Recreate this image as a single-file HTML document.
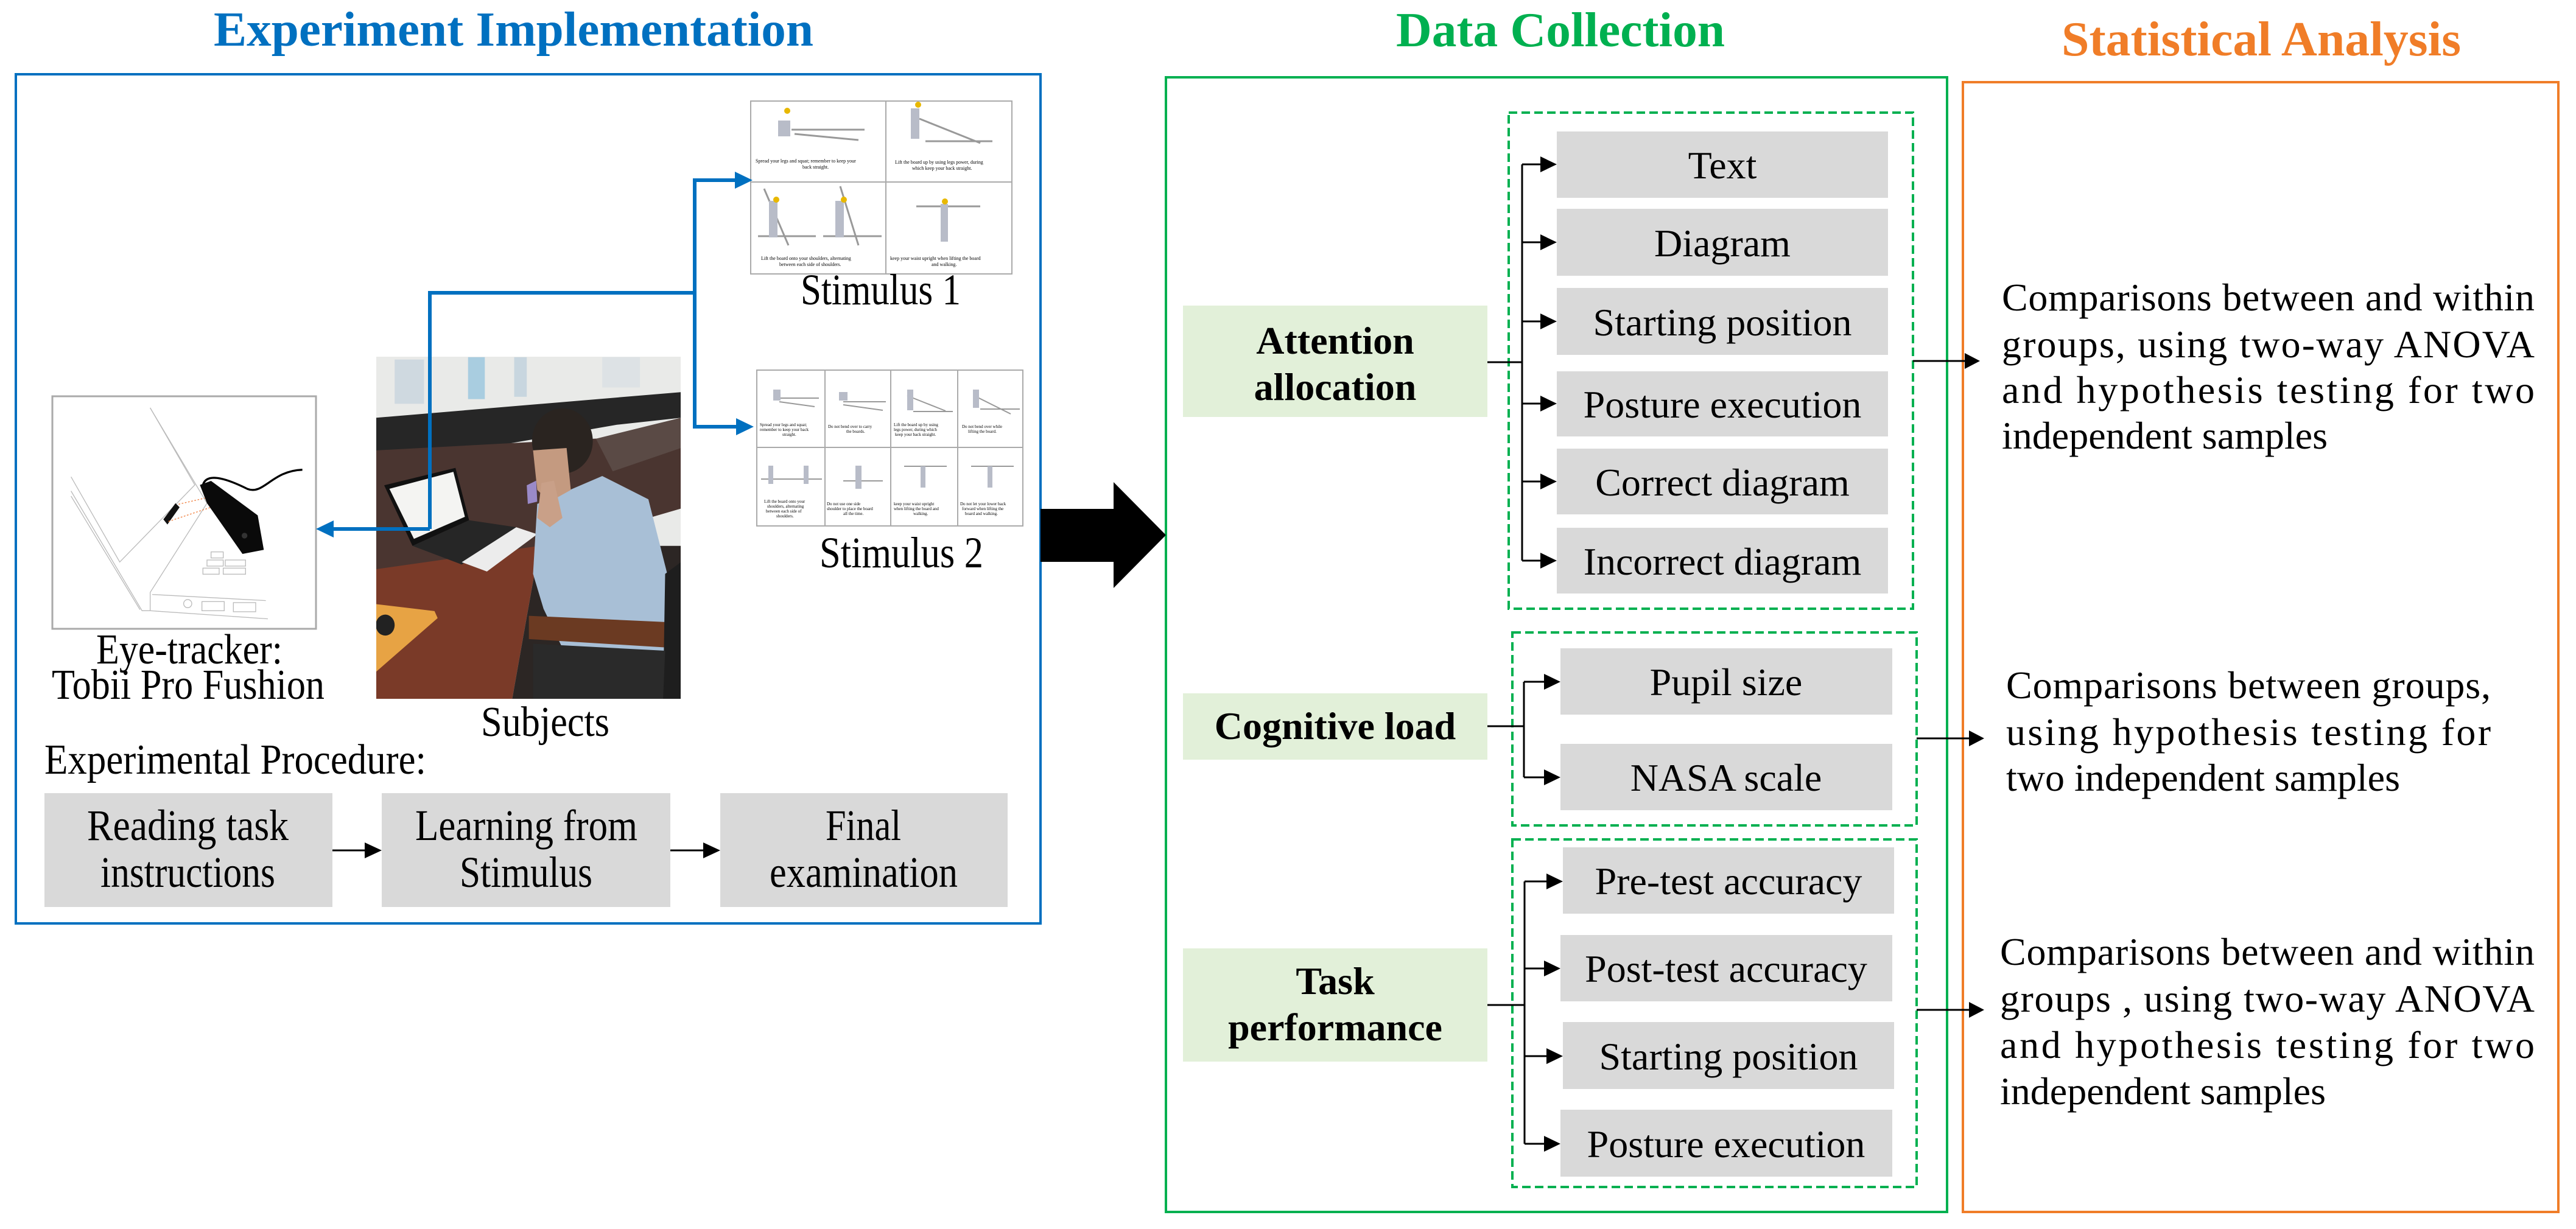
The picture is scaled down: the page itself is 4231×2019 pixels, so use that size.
<!DOCTYPE html>
<html><head><meta charset="utf-8"><style>
html,body{margin:0;padding:0;background:#fff}
svg{display:block}
text{font-family:"Liberation Serif","Times New Roman",serif;fill:#000}
</style></head><body>
<svg width="4231" height="2019" viewBox="0 0 4231 2019" xmlns="http://www.w3.org/2000/svg">
<defs>
<clipPath id="cp"><rect x="618" y="586" width="500" height="562"/></clipPath>
</defs>
<rect width="4231" height="2019" fill="#fff"/>

<!-- Titles -->
<text x="351" y="75" font-size="80" font-weight="bold" style="fill:#0070C0" textLength="985" lengthAdjust="spacingAndGlyphs">Experiment Implementation</text>
<text x="2293" y="76" font-size="80" font-weight="bold" style="fill:#00B050" textLength="540" lengthAdjust="spacingAndGlyphs">Data Collection</text>
<text x="3386" y="91" font-size="80" font-weight="bold" style="fill:#F07D28" textLength="656" lengthAdjust="spacingAndGlyphs">Statistical Analysis</text>

<!-- Main boxes -->
<rect x="26" y="122" width="1683" height="1395" fill="none" stroke="#0070C0" stroke-width="4"/>
<rect x="1915" y="127" width="1283" height="1864" fill="none" stroke="#00B050" stroke-width="4"/>
<rect x="3224" y="135" width="978" height="1856" fill="none" stroke="#F07D28" stroke-width="4"/>

<!-- Big arrow -->
<polygon points="1709,836 1829,836 1829,792 1915,879 1829,966 1829,923 1709,923" fill="#000"/>

<!-- Stimulus 1 -->
<g>
<rect x="1233" y="166" width="429" height="284" fill="#fff" stroke="#aaa" stroke-width="2"/>
<line x1="1455" y1="166" x2="1455" y2="450" stroke="#aaa" stroke-width="2"/>
<line x1="1233" y1="299" x2="1662" y2="299" stroke="#aaa" stroke-width="2"/>
<g stroke="#999" stroke-width="3" fill="none">
<line x1="1300" y1="213" x2="1420" y2="213"/><line x1="1305" y1="220" x2="1410" y2="230"/>
<line x1="1520" y1="232" x2="1630" y2="232"/><line x1="1510" y1="195" x2="1610" y2="235"/>
<line x1="1245" y1="388" x2="1340" y2="388"/><line x1="1352" y1="388" x2="1448" y2="388"/>
<line x1="1255" y1="310" x2="1295" y2="403"/><line x1="1380" y1="306" x2="1410" y2="403"/>
<line x1="1505" y1="339" x2="1610" y2="339"/>
</g>
<g fill="#b8bcc8">
<rect x="1278" y="198" width="20" height="26"/><rect x="1496" y="178" width="14" height="50"/>
<rect x="1263" y="330" width="14" height="60"/><rect x="1372" y="330" width="14" height="60"/><rect x="1545" y="335" width="12" height="62"/>
</g>
<g fill="#e8b800"><circle cx="1293" cy="182" r="5"/><circle cx="1508" cy="172" r="5"/><circle cx="1275" cy="328" r="5"/><circle cx="1386" cy="328" r="5"/><circle cx="1552" cy="331" r="5"/></g>
<g font-size="8" style="fill:#444">
<text x="1241" y="267">Spread your legs and squat; remember to keep your</text>
<text x="1318" y="277">back straight.</text>
<text x="1470" y="269">Lift the board up by using legs power, during</text>
<text x="1498" y="279">which keep your back straight.</text>
<text x="1250" y="427">Lift the board onto your shoulders, alternating</text>
<text x="1280" y="437">between each side of shoulders.</text>
<text x="1462" y="427">keep your waist upright when lifting the board</text>
<text x="1530" y="437">and walking.</text>
</g>
</g>
<text x="1315" y="500" font-size="72" textLength="263" lengthAdjust="spacingAndGlyphs">Stimulus 1</text>

<!-- Stimulus 2 -->
<g>
<rect x="1243" y="608" width="437" height="256" fill="#fff" stroke="#aaa" stroke-width="2"/>
<g stroke="#aaa" stroke-width="2">
<line x1="1355" y1="608" x2="1355" y2="864"/><line x1="1463" y1="608" x2="1463" y2="864"/><line x1="1573" y1="608" x2="1573" y2="864"/>
<line x1="1243" y1="735" x2="1680" y2="735"/>
</g>
<g stroke="#999" stroke-width="2" fill="none">
<line x1="1280" y1="654" x2="1345" y2="654"/><line x1="1280" y1="660" x2="1338" y2="668"/>
<line x1="1385" y1="660" x2="1455" y2="660"/><line x1="1385" y1="665" x2="1450" y2="674"/>
<line x1="1500" y1="676" x2="1565" y2="676"/><line x1="1490" y1="650" x2="1553" y2="675"/>
<line x1="1610" y1="672" x2="1675" y2="672"/><line x1="1600" y1="650" x2="1660" y2="680"/>
<line x1="1250" y1="787" x2="1350" y2="787"/><line x1="1385" y1="790" x2="1450" y2="790"/>
<line x1="1485" y1="766" x2="1555" y2="766"/><line x1="1595" y1="766" x2="1665" y2="766"/>
</g>
<g fill="#b8bcc8">
<rect x="1270" y="640" width="12" height="18"/><rect x="1378" y="644" width="14" height="14"/><rect x="1490" y="640" width="10" height="34"/><rect x="1598" y="640" width="10" height="30"/>
<rect x="1262" y="765" width="8" height="30"/><rect x="1320" y="765" width="8" height="30"/><rect x="1405" y="765" width="10" height="38"/><rect x="1512" y="766" width="8" height="35"/><rect x="1622" y="766" width="8" height="35"/>
</g>
<g font-size="7" style="fill:#444">
<text x="1248" y="700">Spread your legs and squat;</text><text x="1248" y="708">remember to keep your back</text><text x="1285" y="716">straight.</text>
<text x="1360" y="703">Do not bend over to carry</text><text x="1390" y="711">the boards.</text>
<text x="1468" y="700">Lift the board up by using</text><text x="1468" y="708">legs power, during which</text><text x="1470" y="716">keep your back straight.</text>
<text x="1580" y="703">Do not bend over while</text><text x="1590" y="711">lifting the board.</text>
<text x="1255" y="826">Lift the board onto your</text><text x="1260" y="834">shoulders, alternating</text><text x="1258" y="842">between each side of</text><text x="1275" y="850">shoulders.</text>
<text x="1358" y="830">Do not use one side</text><text x="1358" y="838">shoulder to place the board</text><text x="1385" y="846">all the time.</text>
<text x="1468" y="830">keep your waist upright</text><text x="1468" y="838">when lifting the board and</text><text x="1500" y="846">walking.</text>
<text x="1577" y="830">Do not let your lower back</text><text x="1580" y="838">forward when lifting the</text><text x="1585" y="846">board and walking.</text>
</g>
</g>
<text x="1346" y="932" font-size="72" textLength="269" lengthAdjust="spacingAndGlyphs">Stimulus 2</text>

<!-- Photo -->
<g clip-path="url(#cp)">
<rect x="618" y="586" width="500" height="562" fill="#e9eae8"/>
<g transform="translate(600,560) scale(0.3444,0.3827)">
<rect x="140" y="80" width="140" height="190" fill="#cfd9e0"/>
<rect x="490" y="70" width="80" height="180" fill="#a9cde0"/>
<rect x="710" y="70" width="60" height="170" fill="#c8d6df"/>
<rect x="1130" y="70" width="180" height="130" fill="#dde2e5"/>
<polygon points="52,330 1505,220 1505,330 1200,360 52,540" fill="#262626"/>
<polygon points="52,470 1505,400 1505,720 820,900 52,1000" fill="#4a3530"/>
<polygon points="1100,420 1505,330 1505,460 1180,560" fill="#5a4a45"/>
<polygon points="52,980 830,880 700,1540 52,1540" fill="#7a3a28"/>
<polygon points="700,1540 830,880 1505,880 1505,1540" fill="#2c2624"/>
<polygon points="52,1130 330,1160 345,1190 52,1420" fill="#e7a344"/>
<ellipse cx="95" cy="1220" rx="45" ry="45" fill="#222"/>
<polygon points="90,620 430,545 495,770 225,880" fill="#111"/>
<polygon points="115,635 420,562 475,755 232,850" fill="#f4f4f2"/>
<polygon points="225,880 495,770 720,800 460,960" fill="#262626"/>
<polygon points="460,950 720,800 820,830 580,990" fill="#ececec"/>
<polygon points="770,620 815,600 820,690 775,700" fill="#9a8ac8"/>
<polygon points="820,700 1130,580 1350,680 1440,1000 1430,1430 1000,1430 850,1150 800,1000" fill="#a8bfd6"/>
<ellipse cx="940" cy="430" rx="145" ry="140" fill="#2a2420"/>
<polygon points="800,470 960,460 980,640 880,690 820,640" fill="#c49a80"/>
<polygon points="840,610 900,600 940,760 880,800 820,760" fill="#c9a088"/>
<polygon points="780,1180 1505,1210 1505,1320 780,1280" fill="#6b3a22"/>
<polygon points="1430,1000 1505,950 1505,1540 1420,1540" fill="#1e1e1e"/>
<polygon points="800,1300 1430,1330 1420,1540 800,1540" fill="#2a2a2a"/>
</g>
</g>

<!-- Eye tracker -->
<rect x="86" y="651" width="433" height="382" fill="#fff" stroke="#aaa" stroke-width="3"/>
<g transform="translate(80,640) scale(0.3333)" fill="none" stroke="#bbb" stroke-width="4">
<polyline points="500,90 720,470 350,850 110,430"/>
<polyline points="110,500 460,1090 500,1090"/>
<polyline points="110,525 450,1085"/>
<polyline points="500,90 780,560 500,1000 500,1090 1080,1130"/>
<polyline points="510,1010 1070,1040"/>
<circle cx="685" cy="1055" r="20"/>
<rect x="755" y="1045" width="110" height="45"/><rect x="910" y="1050" width="110" height="45"/>
<rect x="760" y="880" width="80" height="30"/><rect x="860" y="880" width="110" height="30"/>
<rect x="780" y="840" width="80" height="30"/><rect x="870" y="840" width="100" height="30"/>
<rect x="800" y="800" width="60" height="30"/>
</g>
<g transform="translate(80,640) scale(0.3333)">
<path d="M760,470 C780,400 900,450 980,490 C1060,520 1100,400 1250,395" fill="none" stroke="#000" stroke-width="10"/>
<polygon points="745,470 800,450 1030,620 1060,790 955,810 780,560" fill="#0a0a0a"/>
<circle cx="965" cy="720" r="14" fill="#333"/>
<polygon points="565,640 625,560 645,580 585,665" fill="#111"/>
<line x1="640" y1="565" x2="770" y2="535" stroke="#f08040" stroke-width="4" stroke-dasharray="8,8"/>
<line x1="590" y1="650" x2="800" y2="580" stroke="#f08040" stroke-width="4" stroke-dasharray="8,8"/>
</g>

<!-- Blue connectors -->
<g stroke="#0070C0" stroke-width="6" fill="none">
<polyline points="706,869 706,481 1141,481"/>
<line x1="706" y1="869" x2="545" y2="869"/>
<polyline points="1212,296 1141,296 1141,701 1214,701"/>
</g>
<g fill="#0070C0">
<polygon points="519,869 548,855 548,883"/>
<polygon points="1236,296 1207,282 1207,310"/>
<polygon points="1238,701 1209,687 1209,715"/>
</g>

<!-- Left labels -->
<text x="158" y="1090" font-size="70" textLength="306" lengthAdjust="spacingAndGlyphs">Eye-tracker:</text>
<text x="85" y="1148" font-size="70" textLength="448" lengthAdjust="spacingAndGlyphs">Tobii Pro Fushion</text>
<text x="790" y="1209" font-size="70" textLength="211" lengthAdjust="spacingAndGlyphs">Subjects</text>
<text x="73" y="1271" font-size="70" textLength="627" lengthAdjust="spacingAndGlyphs">Experimental Procedure:</text>

<!-- Procedure -->
<rect x="73" y="1303" width="473" height="187" fill="#d9d9d9"/>
<rect x="627" y="1303" width="474" height="187" fill="#d9d9d9"/>
<rect x="1183" y="1303" width="472" height="187" fill="#d9d9d9"/>
<g stroke="#000" stroke-width="3"><line x1="546" y1="1397" x2="602" y2="1397"/><line x1="1101" y1="1397" x2="1157" y2="1397"/></g>
<polygon points="627,1397 599,1384 599,1410" fill="#000"/>
<polygon points="1183,1397 1155,1384 1155,1410" fill="#000"/>
<g font-size="72">
<text x="143" y="1380" textLength="331" lengthAdjust="spacingAndGlyphs">Reading task</text>
<text x="165" y="1457" textLength="287" lengthAdjust="spacingAndGlyphs">instructions</text>
<text x="682" y="1380" textLength="365" lengthAdjust="spacingAndGlyphs">Learning from</text>
<text x="755" y="1457" textLength="218" lengthAdjust="spacingAndGlyphs">Stimulus</text>
<text x="1356" y="1380" textLength="124" lengthAdjust="spacingAndGlyphs">Final</text>
<text x="1264" y="1457" textLength="309" lengthAdjust="spacingAndGlyphs">examination</text>
</g>

<!-- Data collection: labels -->
<rect x="1943" y="502" width="500" height="183" fill="#E2F0D9"/>
<rect x="1943" y="1139" width="500" height="109" fill="#E2F0D9"/>
<rect x="1943" y="1558" width="500" height="186" fill="#E2F0D9"/>
<g font-size="64" font-weight="bold" text-anchor="middle">
<text x="2193" y="581">Attention</text>
<text x="2193" y="657">allocation</text>
<text x="2193" y="1214">Cognitive load</text>
<text x="2193" y="1633">Task</text>
<text x="2193" y="1709">performance</text>
</g>

<!-- Dashed boxes -->
<g fill="none" stroke="#00B050" stroke-width="4" stroke-dasharray="14,7">
<rect x="2478" y="185" width="664" height="815"/>
<rect x="2484" y="1039" width="664" height="317"/>
<rect x="2484" y="1379" width="664" height="571"/>
</g>

<!-- Gray boxes -->
<g fill="#d9d9d9">
<rect x="2557" y="216" width="544" height="109"/>
<rect x="2557" y="343" width="544" height="110"/>
<rect x="2557" y="473" width="544" height="110"/>
<rect x="2557" y="610" width="544" height="107"/>
<rect x="2557" y="737" width="544" height="108"/>
<rect x="2557" y="867" width="544" height="108"/>
<rect x="2563" y="1065" width="545" height="109"/>
<rect x="2563" y="1222" width="545" height="109"/>
<rect x="2567" y="1392" width="544" height="109"/>
<rect x="2563" y="1536" width="545" height="109"/>
<rect x="2567" y="1679" width="544" height="110"/>
<rect x="2563" y="1823" width="545" height="110"/>
</g>
<g font-size="64" text-anchor="middle">
<text x="2829" y="293">Text</text>
<text x="2829" y="421">Diagram</text>
<text x="2829" y="551">Starting position</text>
<text x="2829" y="686">Posture execution</text>
<text x="2829" y="814">Correct diagram</text>
<text x="2829" y="944">Incorrect diagram</text>
<text x="2835" y="1142">Pupil size</text>
<text x="2835" y="1299">NASA scale</text>
<text x="2839" y="1469">Pre-test accuracy</text>
<text x="2835" y="1613">Post-test accuracy</text>
<text x="2839" y="1757">Starting position</text>
<text x="2835" y="1901">Posture execution</text>
</g>

<!-- Brackets -->
<g stroke="#000" stroke-width="3" fill="none">
<line x1="2443" y1="595" x2="2500" y2="595"/>
<line x1="2500" y1="270" x2="2500" y2="921"/>
<line x1="2500" y1="270" x2="2532" y2="270"/>
<line x1="2500" y1="398" x2="2532" y2="398"/>
<line x1="2500" y1="528" x2="2532" y2="528"/>
<line x1="2500" y1="663" x2="2532" y2="663"/>
<line x1="2500" y1="791" x2="2532" y2="791"/>
<line x1="2500" y1="921" x2="2532" y2="921"/>
<line x1="2443" y1="1193" x2="2503" y2="1193"/>
<line x1="2503" y1="1120" x2="2503" y2="1277"/>
<line x1="2503" y1="1120" x2="2538" y2="1120"/>
<line x1="2503" y1="1277" x2="2538" y2="1277"/>
<line x1="2443" y1="1651" x2="2504" y2="1651"/>
<line x1="2504" y1="1448" x2="2504" y2="1879"/>
<line x1="2504" y1="1448" x2="2542" y2="1448"/>
<line x1="2504" y1="1591" x2="2538" y2="1591"/>
<line x1="2504" y1="1735" x2="2542" y2="1735"/>
<line x1="2504" y1="1879" x2="2538" y2="1879"/>
<line x1="3142" y1="593" x2="3230" y2="593"/>
<line x1="3148" y1="1213" x2="3236" y2="1213"/>
<line x1="3148" y1="1659" x2="3236" y2="1659"/>
</g>
<g fill="#000">
<polygon points="2557,270 2530,257 2530,283"/>
<polygon points="2557,398 2530,385 2530,411"/>
<polygon points="2557,528 2530,515 2530,541"/>
<polygon points="2557,663 2530,650 2530,676"/>
<polygon points="2557,791 2530,778 2530,804"/>
<polygon points="2557,921 2530,908 2530,934"/>
<polygon points="2563,1120 2536,1107 2536,1133"/>
<polygon points="2563,1277 2536,1264 2536,1290"/>
<polygon points="2567,1448 2540,1435 2540,1461"/>
<polygon points="2563,1591 2536,1578 2536,1604"/>
<polygon points="2567,1735 2540,1722 2540,1748"/>
<polygon points="2563,1879 2536,1866 2536,1892"/>
<polygon points="3252,593 3227,580 3227,606"/>
<polygon points="3259,1213 3234,1200 3234,1226"/>
<polygon points="3259,1659 3234,1646 3234,1672"/>
</g>

<!-- Statistical analysis text -->
<g font-size="64">
<text x="3288" y="510" textLength="875" lengthAdjust="spacing">Comparisons between and within</text>
<text x="3288" y="587" textLength="875" lengthAdjust="spacing">groups, using two-way ANOVA</text>
<text x="3288" y="662" textLength="875" lengthAdjust="spacing">and hypothesis testing for two</text>
<text x="3288" y="737">independent samples</text>
<text x="3295" y="1147" textLength="796" lengthAdjust="spacing">Comparisons between groups,</text>
<text x="3295" y="1224" textLength="796" lengthAdjust="spacing">using hypothesis testing for</text>
<text x="3295" y="1299">two independent samples</text>
<text x="3285" y="1585" textLength="878" lengthAdjust="spacing">Comparisons between and within</text>
<text x="3285" y="1662" textLength="878" lengthAdjust="spacing">groups , using two-way ANOVA</text>
<text x="3285" y="1738" textLength="878" lengthAdjust="spacing">and hypothesis testing for two</text>
<text x="3285" y="1814">independent samples</text>
</g>
</svg>
</body></html>
